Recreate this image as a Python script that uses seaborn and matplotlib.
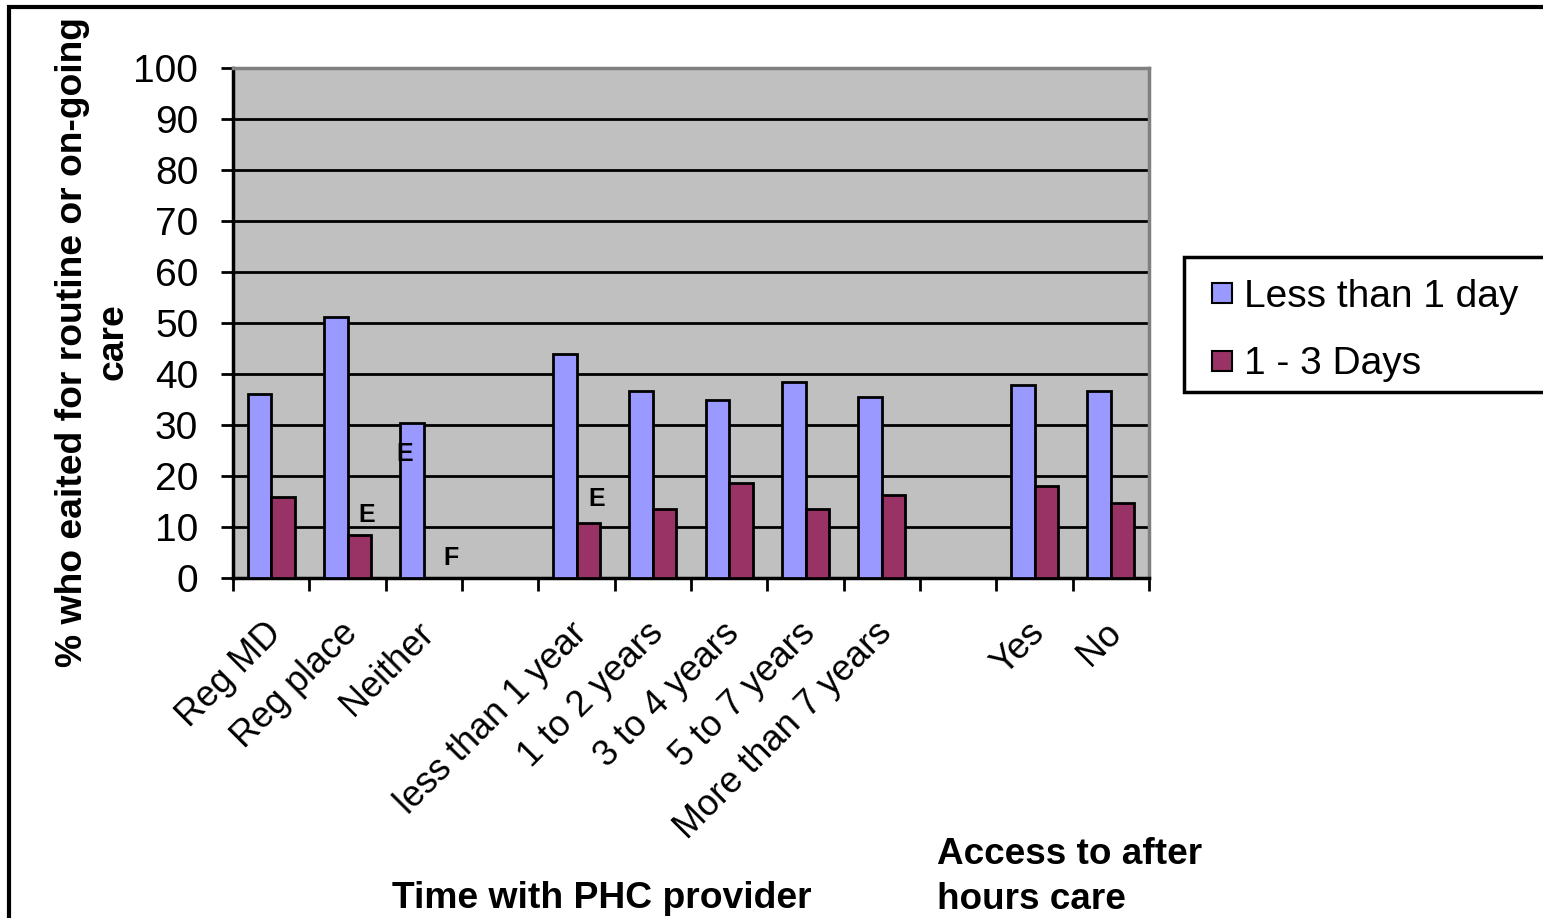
import numpy as np
import pandas as pd
import matplotlib
matplotlib.use("Agg")
import matplotlib.pyplot as plt
from matplotlib.patches import Rectangle
from matplotlib.lines import Line2D
from matplotlib.transforms import ScaledTranslation
import seaborn as sns

# Category slots along the x axis (two blank spacer slots separate the groups)
categories = ["Reg MD", "Reg place", "Neither", "",
              "less than 1 year", "1 to 2 years", "3 to 4 years",
              "5 to 7 years", "More than 7 years", "",
              "Yes", "No"]
series_names = ["Less than 1 day", "1 - 3 Days"]
less_than_1_day = [36.0, 51.2, 30.4, None, 43.9, 36.7, 34.9, 38.4, 35.5, None, 37.8, 36.7]
one_to_3_days = [15.8, 8.4, None, None, 10.8, 13.5, 18.6, 13.5, 16.3, None, 18.0, 14.7]
y_ticks = [0, 10, 20, 30, 40, 50, 60, 70, 80, 90, 100]

# Quality flags printed next to bars: (category index, series index, flag)
flags = [(2, 0, "E"), (1, 1, "E"), (2, 1, "F"), (4, 1, "E")]
# where each flag sits relative to its bar (x in slot units, y in % points)
flag_offsets = [(-0.09, -6.0), (0.09, 4.0), (0.2, 3.9), (0.11, 4.7)]

colors = ["#9999FF", "#993366"]
FONT = "Liberation Sans"

slot_ids = [f"c{i}" for i in range(len(categories))]
rows = []
for i, sid in enumerate(slot_ids):
    for name, vals in zip(series_names, [less_than_1_day, one_to_3_days]):
        if vals[i] is not None:
            rows.append({"slot": sid, "series": name, "value": vals[i]})
df = pd.DataFrame(rows)

sns.set_theme(style="white")
plt.rcParams["font.family"] = [FONT, "DejaVu Sans"]
for key in ["text.color", "axes.labelcolor", "xtick.color", "ytick.color"]:
    plt.rcParams[key] = "black"

W, H = 1543, 918
fig = plt.figure(figsize=(W / 100, H / 100), dpi=100)
fig.patch.set_facecolor("white")


def fx(px):
    return px / W


def fy(py):
    return 1 - py / H


ax = fig.add_axes([fx(233), fy(578), fx(1149) - fx(233), fy(68) - fy(578)])
ax.set_facecolor("#C0C0C0")

sns.barplot(data=df, x="slot", y="value", hue="series", order=slot_ids,
            hue_order=series_names, palette=colors, width=0.62,
            edgecolor="black", linewidth=2, saturation=1, legend=False,
            errorbar=None, ax=ax, zorder=3)

ax.set_ylim(0, 100)
ax.set_xlim(-0.5, len(categories) - 0.5)

# horizontal gridlines
for v in y_ticks[1:-1]:
    ax.axhline(v, color="black", lw=2, zorder=1)

ax.set_yticks(y_ticks)
ax.set_yticklabels([str(v) for v in y_ticks], fontsize=28, family=FONT)
ax.tick_params(axis="y", direction="out", length=9, width=2, color="black",
               pad=16, left=True)

# boundary ticks on the x axis, labels centred under each slot
ax.set_xticks(np.arange(len(categories) + 1) - 0.5)
ax.set_xticklabels([])
ax.tick_params(axis="x", which="major", direction="out", length=9, width=2,
               color="black", bottom=True)
ax.set_xticks(np.arange(len(categories)), minor=True)
ax.set_xticklabels(categories, minor=True, rotation=45, ha="right",
                   va="center", rotation_mode="anchor", fontsize=26,
                   family=FONT)
ax.tick_params(axis="x", which="minor", length=0, pad=36)
shift = ScaledTranslation(5 / 100, 0, fig.dpi_scale_trans)
for lab in ax.get_xticklabels(minor=True):
    lab.set_transform(lab.get_transform() + shift)
ax.set_xlabel("")
ax.set_ylabel("")

for side in ["left", "bottom"]:
    ax.spines[side].set_color("black")
    ax.spines[side].set_linewidth(2.5)
for side in ["top", "right"]:
    ax.spines[side].set_color("#808080")
    ax.spines[side].set_linewidth(2.5)

# flag letters
bw = 0.31
for (ci, si, txt), (dx, dy) in zip(flags, flag_offsets):
    xc = ci + (-bw / 2 if si == 0 else bw / 2)
    vals = less_than_1_day if si == 0 else one_to_3_days
    base = vals[ci] if vals[ci] is not None else 0
    ax.text(xc + dx, base + dy, txt, fontsize=18, fontweight="bold",
            color="black", ha="center", va="center", family=FONT, zorder=5)

# axis titles
fig.text(fx(93), fy(342), "% who eaited for routine or on-going\ncare",
         rotation=90, ha="center", va="center", fontsize=26.8,
         fontweight="bold", family=FONT, linespacing=1.2)
fig.text(fx(602), fy(899), "Time with PHC provider", ha="center",
         va="center", fontsize=26.8, fontweight="bold", family=FONT)
fig.text(fx(937), fy(877), "Access to after\nhours care", ha="left",
         va="center", fontsize=26.6, fontweight="bold", family=FONT,
         linespacing=1.38)

# legend box and entries
fig.patches.append(Rectangle((fx(1184), fy(392)), fx(1600) - fx(1184),
                             fy(257) - fy(392), transform=fig.transFigure,
                             facecolor="white", edgecolor="black", lw=2.5,
                             zorder=2))
handles = [Line2D([], [], marker="s", linestyle="none", markersize=14.5,
                  markerfacecolor=c, markeredgecolor="black",
                  markeredgewidth=1.5) for c in colors]
fig.legend(handles, series_names, loc="upper left",
           bbox_to_anchor=(fx(1203), fy(279)), frameon=False,
           prop={"family": FONT, "size": 28},
           handletextpad=0.06, labelspacing=0.8, borderpad=0,
           borderaxespad=0, handlelength=1.0)

# outer chart border
fig.patches.append(Rectangle((fx(9), fy(940)), fx(1600) - fx(9),
                             fy(7) - fy(940), transform=fig.transFigure,
                             facecolor="none", edgecolor="black", lw=3,
                             zorder=1))

fig.savefig("out.png", dpi=100)
